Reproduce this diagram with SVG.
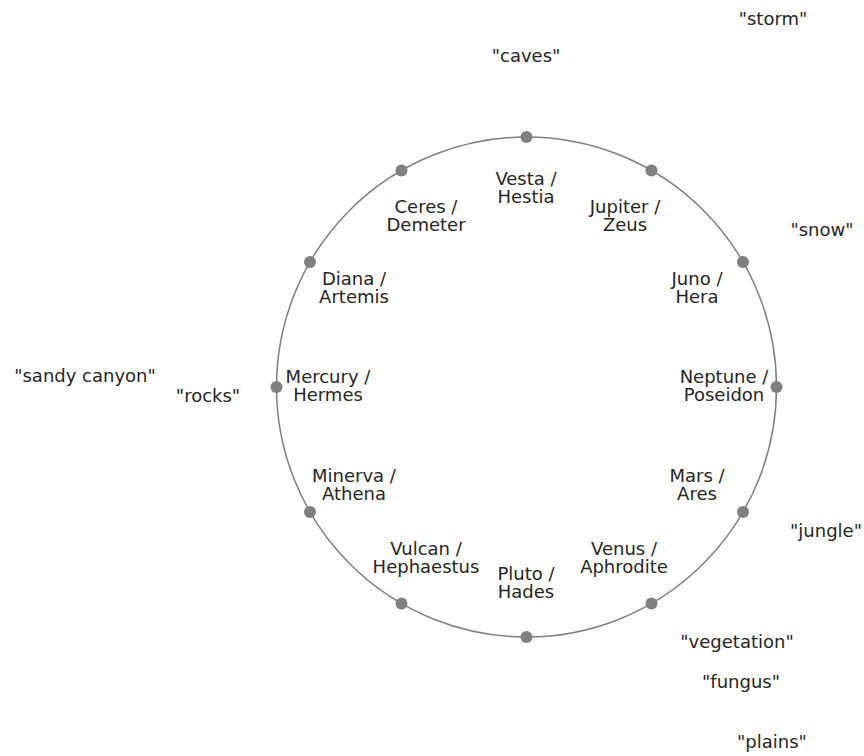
<svg xmlns="http://www.w3.org/2000/svg" width="864" height="756" viewBox="0 0 864 756">
<style>
text{font-family:"DejaVu Sans",sans-serif;font-size:18px;fill:#262626;text-anchor:middle}
.dot{fill:#808080}
.ring{fill:none;stroke:#808080;stroke-width:1.5}
</style>
<rect width="864" height="756" fill="#fff"/>
<g id="connectors">
<circle class="ring" cx="526.5" cy="387" r="250"/>
</g>
<g id="vesta"><circle class="dot" cx="526.5" cy="137" r="6"/><text x="526" y="185">Vesta /</text><text x="526" y="203">Hestia</text></g>
<g id="jupiter"><circle class="dot" cx="651.5" cy="170.5" r="6"/><text x="625" y="213">Jupiter /</text><text x="625" y="231">Zeus</text></g>
<g id="juno"><circle class="dot" cx="743" cy="262" r="6"/><text x="697" y="285">Juno /</text><text x="697" y="303">Hera</text></g>
<g id="neptune"><circle class="dot" cx="776.5" cy="387" r="6"/><text x="724" y="383">Neptune /</text><text x="724" y="401">Poseidon</text></g>
<g id="mars"><circle class="dot" cx="743" cy="512" r="6"/><text x="697" y="482">Mars /</text><text x="697" y="500">Ares</text></g>
<g id="venus"><circle class="dot" cx="651.5" cy="603.5" r="6"/><text x="624" y="555">Venus /</text><text x="624" y="573">Aphrodite</text></g>
<g id="pluto"><circle class="dot" cx="526.5" cy="637" r="6"/><text x="526" y="580">Pluto /</text><text x="526" y="598">Hades</text></g>
<g id="vulcan"><circle class="dot" cx="401.5" cy="603.5" r="6"/><text x="426" y="555">Vulcan /</text><text x="426" y="573">Hephaestus</text></g>
<g id="minerva"><circle class="dot" cx="310" cy="512" r="6"/><text x="354" y="482">Minerva /</text><text x="354" y="500">Athena</text></g>
<g id="mercury"><circle class="dot" cx="276.5" cy="387" r="6"/><text x="328" y="383">Mercury /</text><text x="328" y="401">Hermes</text></g>
<g id="diana"><circle class="dot" cx="310" cy="262" r="6"/><text x="354" y="285">Diana /</text><text x="354" y="303">Artemis</text></g>
<g id="ceres"><circle class="dot" cx="401.5" cy="170.5" r="6"/><text x="426" y="213">Ceres /</text><text x="426" y="231">Demeter</text></g>
<g id="outer-labels">
<text x="773" y="25">"storm"</text>
<text x="526" y="62">"caves"</text>
<text x="822" y="236">"snow"</text>
<text x="85" y="382">"sandy canyon"</text>
<text x="208" y="402">"rocks"</text>
<text x="826" y="537">"jungle"</text>
<text x="737" y="648">"vegetation"</text>
<text x="741" y="688">"fungus"</text>
<text x="772" y="748">"plains"</text>
</g>
</svg>
